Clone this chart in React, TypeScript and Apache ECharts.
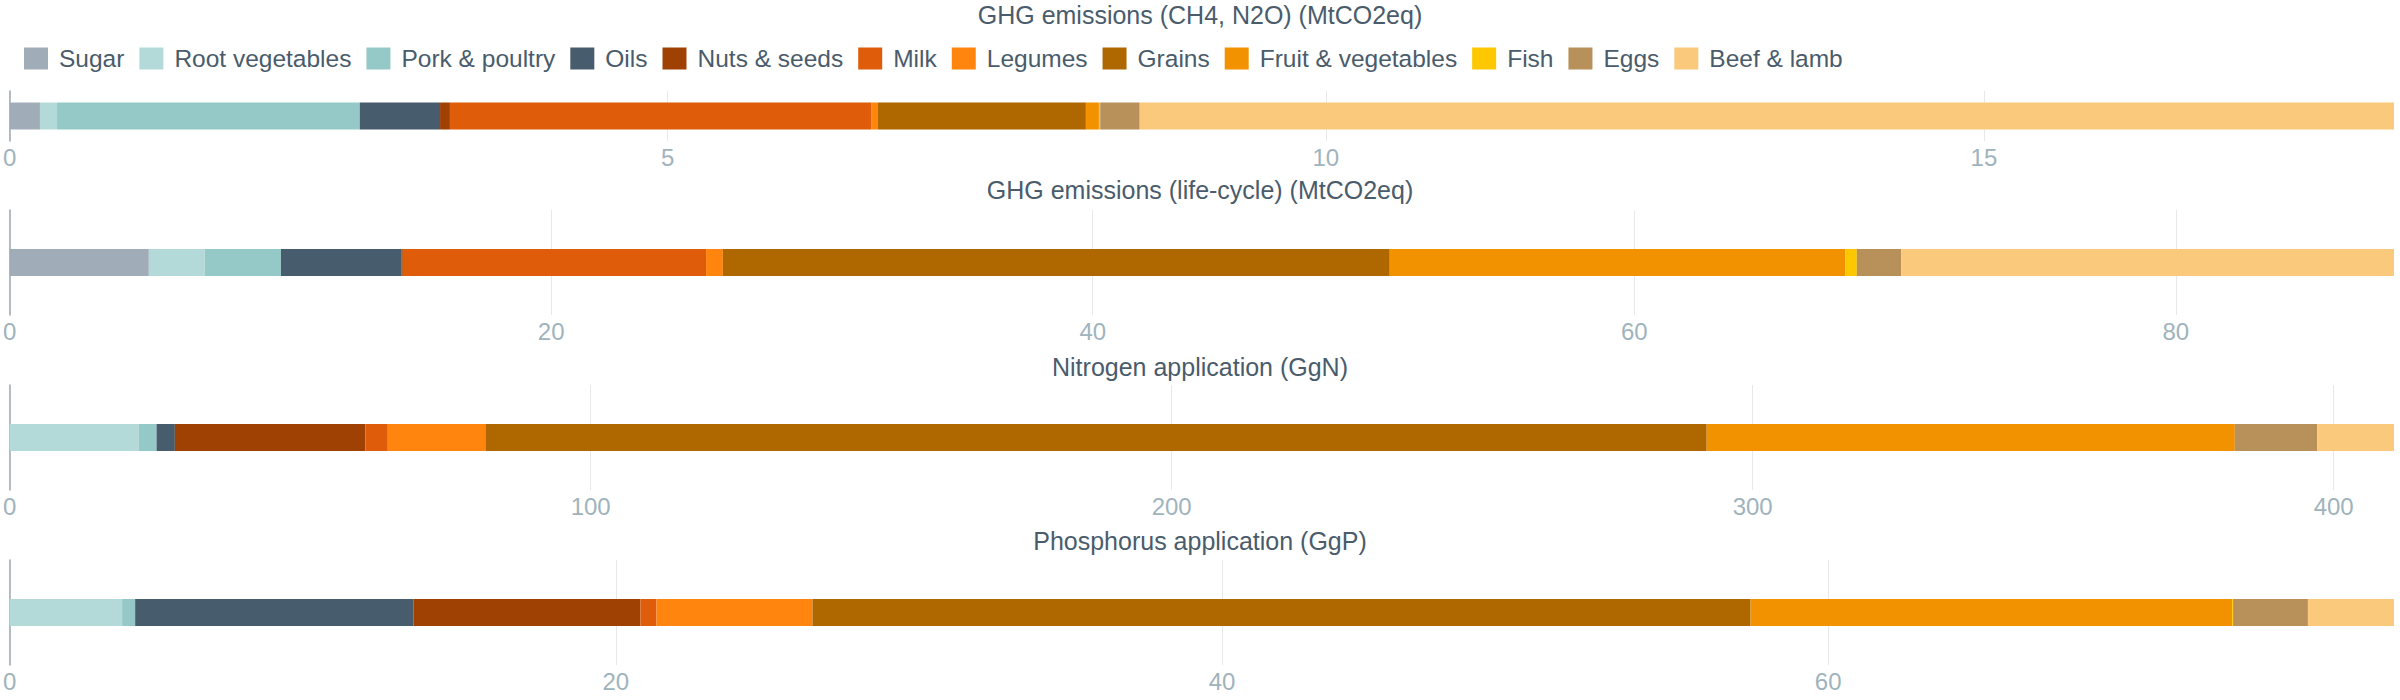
import React, { useEffect, useRef } from "react";
import * as echarts from "echarts";

const foods = [
  "Sugar",
  "Root vegetables",
  "Pork & poultry",
  "Oils",
  "Nuts & seeds",
  "Milk",
  "Legumes",
  "Grains",
  "Fruit & vegetables",
  "Fish",
  "Eggs",
  "Beef & lamb",
];

const foodColors = [
  "#a0adb9",
  "#b3dad9",
  "#95c9c8",
  "#475c6d",
  "#a04104",
  "#df5d0a",
  "#ff850e",
  "#af6700",
  "#f39200",
  "#fdc800",
  "#b8905a",
  "#fbc97c",
];

// GHG emissions (CH4, N2O) (MtCO2eq)
const ghgDirect = [0.23, 0.13, 2.3, 0.61, 0.075, 3.2, 0.052, 1.58, 0.099, 0.01, 0.3, 9.53];
// GHG emissions (life-cycle) (MtCO2eq)
const ghgLifeCycle = [5.14, 2.06, 2.82, 4.46, 0.04, 11.2, 0.62, 24.63, 16.83, 0.42, 1.64, 18.2];
// Nitrogen application (GgN)
const nitrogen = [0, 22.2, 3.08, 3.15, 32.8, 3.85, 16.8, 210.2, 90.9, 0, 14.2, 13.2];
// Phosphorus application (GgP)
const phosphorus = [0, 3.71, 0.43, 9.18, 7.49, 0.53, 5.15, 30.95, 15.89, 0.03, 2.47, 2.84];

const panelTitles = [
  "GHG emissions (CH4, N2O) (MtCO2eq)",
  "GHG emissions (life-cycle) (MtCO2eq)",
  "Nitrogen application (GgN)",
  "Phosphorus application (GgP)",
];
const tickIntervals = [5, 20, 100, 20];

const panelData = [ghgDirect, ghgLifeCycle, nitrogen, phosphorus];

const gridTops = [91, 210, 385, 560];
const gridHeights = [50, 105, 105, 105];
const titleTops = [2, 177, 354, 528];

const TEXT = "#4a5c6b";
const AXIS_TEXT = "#9fb3bd";
const FONT = "'Liberation Sans', Arial, Helvetica, sans-serif";

export default function App() {
  const ref = useRef<HTMLDivElement>(null);

  useEffect(() => {
    if (!ref.current) return;
    const chart = echarts.init(ref.current, undefined, { renderer: "svg" });

    const totals = panelData.map((arr) => arr.reduce((a, b) => a + b, 0));

    const series: any[] = [];
    panelData.forEach((arr, p) => {
      foods.forEach((name, i) => {
        series.push({
          name,
          type: "bar",
          stack: "panel" + p,
          xAxisIndex: p,
          yAxisIndex: p,
          barWidth: 27,
          data: [arr[i]],
          itemStyle: { color: foodColors[i] },
          emphasis: { disabled: true },
        });
      });
    });

    const option: any = {
      animation: false,
      color: foodColors,
      textStyle: { fontFamily: FONT },
      title: panelTitles.map((t, p) => ({
        text: t,
        left: "center",
        top: titleTops[p],
        padding: 0,
        textStyle: { fontSize: 25, fontWeight: "normal", color: TEXT, fontFamily: FONT },
      })),
      legend: {
        data: foods,
        icon: "rect",
        left: 24,
        top: 46,
        padding: 0,
        itemWidth: 24,
        itemHeight: 22,
        itemGap: 15,
        textStyle: { fontSize: 24.5, color: TEXT, fontFamily: FONT, padding: [0, 0, 0, 6] },
      },
      grid: panelData.map((_, p) => ({
        left: 8,
        right: 6,
        top: gridTops[p],
        height: gridHeights[p],
        containLabel: false,
      })),
      xAxis: panelData.map((_, p) => ({
        type: "value",
        gridIndex: p,
        min: 0,
        max: totals[p],
        interval: tickIntervals[p],
        axisLine: { show: false },
        axisTick: { show: false },
        splitLine: {
          show: true,
          showMaxLine: false,
          lineStyle: { color: "#e6e9ec", width: 1 },
        },
        axisLabel: {
          fontSize: 24,
          color: AXIS_TEXT,
          margin: 4,
          showMaxLabel: false,
          fontFamily: FONT,
        },
      })),
      yAxis: panelData.map((_, p) => ({
        type: "category",
        gridIndex: p,
        data: [panelTitles[p]],
        axisLine: { show: true, lineStyle: { color: "#9ea9b2", width: 1.5 } },
        axisTick: { show: false },
        axisLabel: { show: false },
        splitLine: { show: false },
      })),
      series,
    };

    chart.setOption(option);
    return () => chart.dispose();
  }, []);

  return (
    <div
      ref={ref}
      style={{ position: "fixed", left: 0, top: 0, width: 2400, height: 700, background: "#fff" }}
    />
  );
}
